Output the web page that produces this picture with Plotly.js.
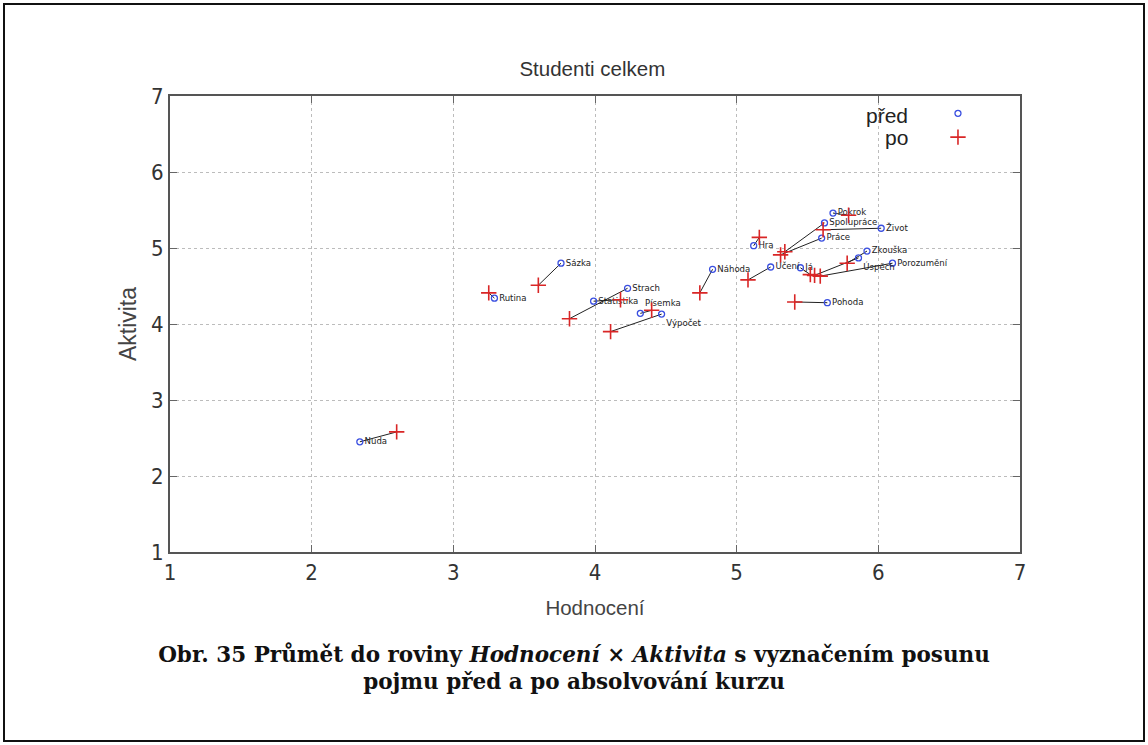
<!DOCTYPE html>
<html>
<head>
<meta charset="utf-8">
<script src="https://cdn.plot.ly/plotly-3.0.1.min.js"></script>
<style>
  html, body { margin: 0; padding: 0; background: #fff; }
  #frame { position: absolute; left: 3px; top: 3px; width: 1142px; height: 739px; box-sizing: border-box; border: 2px solid #111; }
  #chart { position: absolute; left: 0; top: 0; width: 1148px; height: 745px; }
  #caption { position: absolute; left: 0; width: 1148px; top: 641px; text-align: center;
             font-family: "DejaVu Serif", "Liberation Serif", serif; font-weight: bold; font-size: 21.5px; line-height: 27px; color: #111; }
</style>
</head>
<body>
<div id="chart"></div>
<div id="frame"></div>
<div id="caption">Obr. 35 Průmět do roviny <i>Hodnocení</i> × <i>Aktivita</i> s vyznačením posunu<br>pojmu před a po absolvování kurzu</div>
<script>
// Concepts and their positions before (před) and after (po) the course
const pojmy = ['Nuda','Rutina','Sázka','Strach','Statistika','Písemka','Výpočet','Náhoda','Učení','Já',
               'Zkouška','Úspěch','Porozumění','Pohoda','Hra','Práce','Život','Spolupráce','Pokrok'];
const predHodnoceni = [2.34, 3.29, 3.76, 4.23, 3.99, 4.32, 4.47, 4.83, 5.24, 5.45,
                       5.92, 5.86, 6.10, 5.64, 5.12, 5.60, 6.02, 5.62, 5.68];
const predAktivita  = [2.45, 4.34, 4.80, 4.47, 4.30, 4.14, 4.13, 4.72, 4.75, 4.74,
                       4.96, 4.87, 4.80, 4.28, 5.03, 5.13, 5.26, 5.33, 5.46];
const poHodnoceni   = [2.60, 3.25, 3.60, 3.82, 4.18, 4.40, 4.11, 4.74, 5.08, 5.52,
                       5.78, 5.55, 5.59, 5.41, 5.16, 5.31, 5.61, 5.34, 5.79];
const poAktivita    = [2.58, 4.41, 4.51, 4.07, 4.32, 4.18, 3.90, 4.41, 4.58, 4.65,
                       4.80, 4.64, 4.63, 4.29, 5.14, 4.91, 5.24, 4.95, 5.43];

const nazevPred = 'před';
const nazevPo = 'po';
const osaTicks = [1, 2, 3, 4, 5, 6, 7];

// label placement: a few crowded labels are nudged up or down
const umisteniPopisku = pojmy.map(p =>
  p === 'Písemka' ? 'top right' : (p === 'Výpočet' || p === 'Úspěch') ? 'bottom right' : 'middle right');

// connecting segments před -> po
const segX = [], segY = [];
pojmy.forEach((p, i) => {
  segX.push(predHodnoceni[i], poHodnoceni[i], null);
  segY.push(predAktivita[i], poAktivita[i], null);
});

const FONT = '"DejaVu Sans Condensed", "Liberation Sans Narrow", "Liberation Sans", Arial, sans-serif';
const FONT2 = '"Liberation Sans", Arial, sans-serif';

const traces = [
  { x: segX, y: segY, mode: 'lines', line: { color: '#222', width: 1 }, showlegend: false, hoverinfo: 'skip' },
  { x: predHodnoceni, y: predAktivita, mode: 'markers+text', name: nazevPred,
    text: pojmy, textposition: umisteniPopisku, cliponaxis: false,
    textfont: { family: FONT, size: 9.5, color: '#222' },
    marker: { symbol: 'circle-open', size: 6, color: '#3a4fe0', line: { width: 1.3, color: '#3a4fe0' } } },
  { x: poHodnoceni, y: poAktivita, mode: 'markers', name: nazevPo,
    marker: { symbol: 'cross-thin-open', size: 11, color: '#d92626', line: { width: 1.6, color: '#d92626' } } }
];

const axisCommon = {
  tickmode: 'array', tickvals: osaTicks, ticktext: osaTicks.map(String),
  showgrid: true, gridcolor: '#bcbcbc', griddash: '3px,3px', gridwidth: 1,
  zeroline: false, showline: true, mirror: 'ticks', linecolor: '#555', linewidth: 2,
  ticks: 'inside', ticklen: 7, tickcolor: '#666', tickwidth: 1,
  tickfont: { family: FONT, size: 22, color: '#333' }
};

const layout = {
  width: 1148, height: 745,
  margin: { l: 170, r: 128, t: 96, b: 193 },
  paper_bgcolor: 'rgba(0,0,0,0)', plot_bgcolor: '#fff',
  title: { text: 'Studenti celkem', x: 0.516, xanchor: 'center', y: 0.908, yanchor: 'middle',
           font: { family: FONT2, size: 20.5, color: '#333' } },
  xaxis: Object.assign({}, axisCommon, { range: [1, 7],
           title: { text: 'Hodnocení', standoff: 16, font: { family: FONT2, size: 20.5, color: '#444' } } }),
  yaxis: Object.assign({}, axisCommon, { range: [1, 7],
           title: { text: 'Aktivita', standoff: 8, font: { family: FONT2, size: 23, color: '#444' } } }),
  showlegend: true,
  legend: { x: 0.9035, y: 0.999, xanchor: 'left', yanchor: 'top', bgcolor: 'rgba(0,0,0,0)',
            font: { family: FONT2, size: 16, color: 'rgba(0,0,0,0)' }, itemwidth: 30, tracegroupgap: 0 },
  annotations: [
    { text: nazevPred, xref: 'paper', yref: 'paper', x: 0.8706, y: 0.958, xanchor: 'right', yanchor: 'middle',
      showarrow: false, font: { family: FONT2, size: 21, color: '#222' } },
    { text: nazevPo, xref: 'paper', yref: 'paper', x: 0.8706, y: 0.909, xanchor: 'right', yanchor: 'middle',
      showarrow: false, font: { family: FONT2, size: 21, color: '#222' } }
  ]
};

Plotly.newPlot('chart', traces, layout, { displayModeBar: false, staticPlot: true });
</script>
</body>
</html>
